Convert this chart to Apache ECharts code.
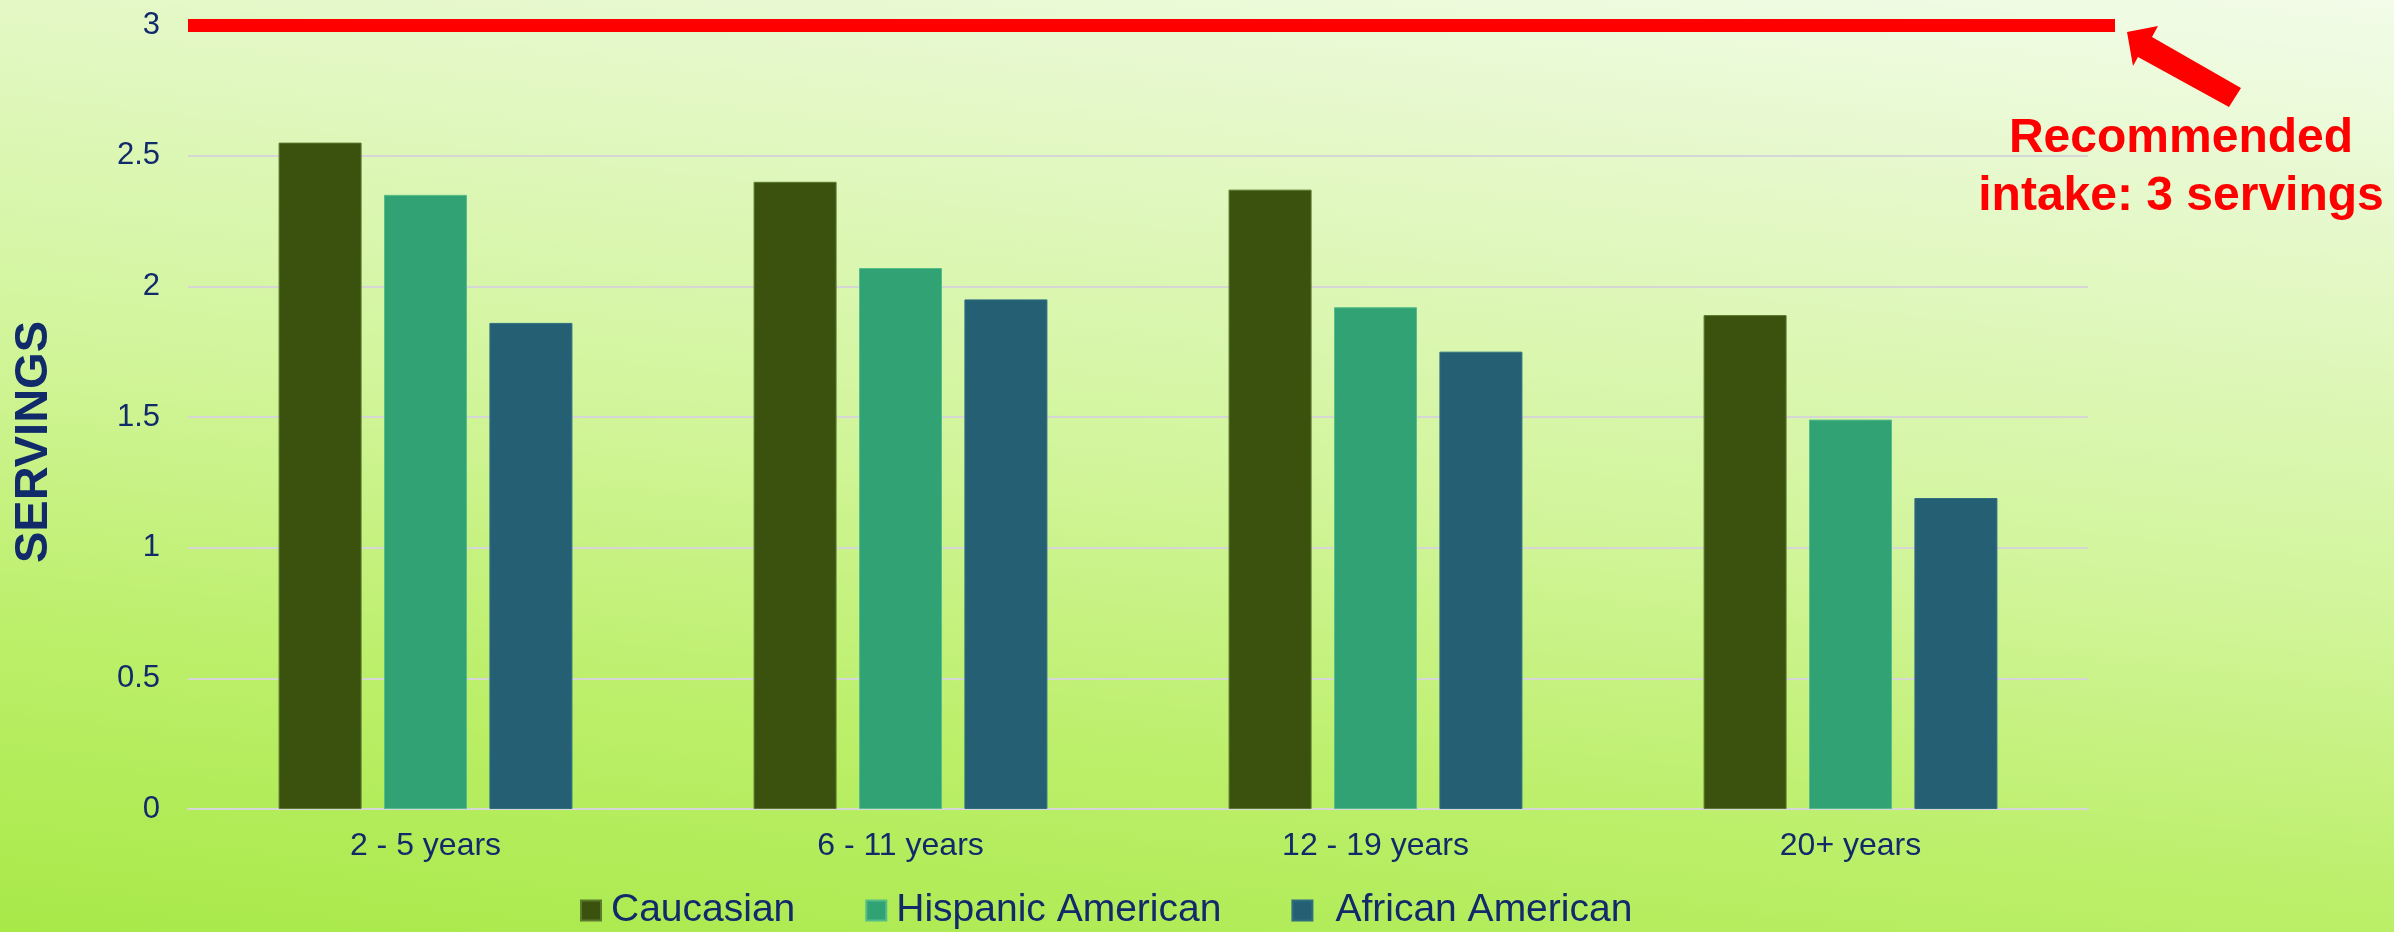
<!DOCTYPE html>
<html>
<head>
<meta charset="utf-8">
<script src="https://cdn.jsdelivr.net/npm/echarts@6/dist/echarts.min.js"></script>
<style>
  html, body { margin: 0; padding: 0; }
  #chart {
    width: 2394px;
    height: 932px;
    background: linear-gradient(186.6deg, #f2fce9 0%, #e4f8c7 22%, #d2f59c 50%, #bcef6a 75%, #a8e948 100%);
  }
</style>
</head>
<body>
<div id="chart"></div>
<script>
// Age groups along the x axis
const categories = ['2 - 5 years', '6 - 11 years', '12 - 19 years', '20+ years'];

// Average daily dairy servings per group
const caucasian = [2.55, 2.40, 2.37, 1.89];
const hispanicAmerican = [2.35, 2.07, 1.92, 1.49];
const africanAmerican = [1.86, 1.95, 1.75, 1.19];

const seriesNames = ['Caucasian', 'Hispanic American', 'African American'];

// Value axis range and step
const yMin = 0;
const yMax = 3;
const yStep = 0.5;

// Recommended daily intake
const recommended = 3;
const recommendedText = 'Recommended\nintake: 3 servings';

const navy = '#102a6a';
const font = 'Liberation Sans, Arial, sans-serif';

const chart = echarts.init(document.getElementById('chart'), null, { renderer: 'canvas' });

function barSeries(name, data, color, border) {
  return {
    name: name,
    type: 'bar',
    data: data,
    xAxisIndex: 0,
    yAxisIndex: 0,
    barWidth: 83,
    barGap: '27%',
    itemStyle: { color: color, borderColor: border, borderWidth: 1 },
    emphasis: { disabled: true },
    silent: true
  };
}

const option = {
  backgroundColor: 'transparent',
  animation: false,
  grid: [
    { left: 188, right: 306, top: 25, bottom: 123 },
    // same vertical scale, reaching a little further right, for the intake line
    { left: 188, right: 279, top: 25, bottom: 123 }
  ],
  legend: {
    data: [
      { name: seriesNames[0] },
      { name: seriesNames[1] },
      { name: seriesNames[2], textStyle: { padding: [0, 0, 0, 18] } }
    ],
    left: 580,
    top: 891,
    padding: 0,
    icon: 'rect',
    itemWidth: 20,
    itemHeight: 20,
    itemGap: 70,
    selectedMode: false,
    textStyle: { color: navy, fontSize: 39, fontFamily: font, padding: [0, 0, 0, 5] }
  },
  xAxis: [
    {
      type: 'category',
      gridIndex: 0,
      data: categories,
      axisLine: { show: true, lineStyle: { color: '#d6d6d6', width: 2 } },
      axisTick: { show: false },
      axisLabel: { color: navy, fontSize: 32, fontFamily: font, margin: 21 }
    },
    {
      type: 'value',
      gridIndex: 1,
      min: 0,
      max: 1,
      show: false
    }
  ],
  yAxis: [
    {
      type: 'value',
      gridIndex: 0,
      min: yMin,
      max: yMax,
      interval: yStep,
      axisLine: { show: false },
      axisTick: { show: false },
      splitLine: { show: true, lineStyle: { color: '#d6d6d6', width: 2 } },
      axisLabel: { color: navy, fontSize: 31, fontFamily: font, margin: 28 }
    },
    {
      type: 'value',
      gridIndex: 1,
      min: yMin,
      max: yMax,
      show: false
    }
  ],
  series: [
    barSeries(seriesNames[0], caucasian, '#3a520d', '#5b7a2f'),
    barSeries(seriesNames[1], hispanicAmerican, '#31a274', '#55bd88'),
    barSeries(seriesNames[2], africanAmerican, '#245f73', '#2f6f80'),
    {
      name: 'recommended',
      type: 'line',
      xAxisIndex: 1,
      yAxisIndex: 1,
      data: [],
      silent: true,
      markLine: {
        silent: true,
        symbol: 'none',
        label: { show: false },
        lineStyle: { color: '#ff0000', width: 13, type: 'solid', cap: 'butt' },
        emphasis: { disabled: true },
        data: [{ yAxis: recommended }]
      }
    }
  ],
  graphic: [
    {
      type: 'text',
      left: 11,
      top: 321,
      rotation: Math.PI / 2,
      style: {
        text: 'SERVINGS',
        fill: navy,
        font: 'bold 47px ' + font
      }
    },
    {
      type: 'polygon',
      silent: true,
      shape: {
        points: [
          [2127, 32], [2158, 26], [2152, 37], [2241, 88],
          [2229, 107], [2138, 57], [2133, 66]
        ]
      },
      style: { fill: '#ff0000' }
    },
    {
      type: 'text',
      silent: true,
      x: 2181,
      y: 168,
      style: {
        text: recommendedText,
        fill: '#ff0000',
        font: 'bold 48px ' + font,
        align: 'center',
        verticalAlign: 'middle',
        lineHeight: 58
      }
    }
  ]
};

chart.setOption(option);
</script>
</body>
</html>
